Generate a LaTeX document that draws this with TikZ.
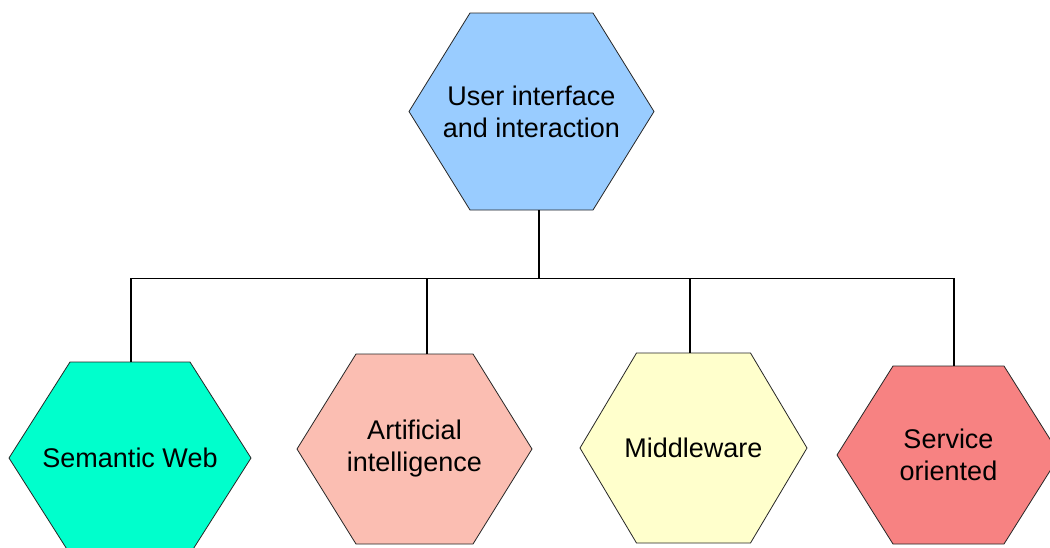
\documentclass[tikz,border=0pt]{standalone}
\usepackage{fontspec}
\setmainfont{Liberation Sans}
\definecolor{cUI}{RGB}{153,204,255}
\definecolor{cSW}{RGB}{0,255,204}
\definecolor{cAI}{RGB}{251,190,178}
\definecolor{cMW}{RGB}{255,255,204}
\definecolor{cSO}{RGB}{247,130,130}
\tikzset{
  hexline/.style={draw=black!85, line width=0.8pt, line join=miter},
  hexlabel/.style={align=center, inner sep=0pt, font=\fontsize{27}{32}\selectfont},
  conn/.style={draw=black, line width=1.4pt}
}
% #1 name, #2 cx, #3 cy, #4 half width, #5 half height, #6 half top edge, #7 colour, #8 text
\newcommand\hexa[8]{%
  \path[hexline, fill=#7] (#2-#4,#3) -- (#2-#6,#3-#5) -- (#2+#6,#3-#5) -- (#2+#4,#3)
    -- (#2+#6,#3+#5) -- (#2-#6,#3+#5) -- cycle;
  \node[hexlabel] (#1) at (#2,#3) {#8};
}
\begin{document}
\begin{tikzpicture}[x=1pt,y=-1pt]
  \clip (0,0) rectangle (1050,547);
  \fill[white] (0,0) rectangle (1050,547);
  \hexa{ui}{531.5}{111.5}{122.5}{98.5}{61.5}{cUI}{User interface\\and interaction}
  \hexa{sw}{130}{458}{121}{96}{60}{cSW}{Semantic Web}
  \hexa{ai}{414.5}{449}{117.5}{95}{58.5}{cAI}{Artificial\\intelligence}
  \hexa{mw}{693.5}{448}{113.5}{95}{57}{cMW}{Middleware}
  \hexa{so}{948.5}{455}{111.5}{89}{55.5}{cSO}{Service\\oriented}
  \coordinate (ui-b) at (539,210);
  \coordinate (junc) at (539,278.5);
  \coordinate (sw-t) at (131,362);
  \coordinate (ai-t) at (427,354);
  \coordinate (mw-t) at (690,353);
  \coordinate (so-t) at (954,366);
  \draw[conn] (ui-b) -- (junc);
  \draw[conn] (sw-t) -- (sw-t |- junc) -- (so-t |- junc) -- (so-t);
  \draw[conn] (ai-t) -- (ai-t |- junc);
  \draw[conn] (mw-t) -- (mw-t |- junc);
\end{tikzpicture}
\end{document}
